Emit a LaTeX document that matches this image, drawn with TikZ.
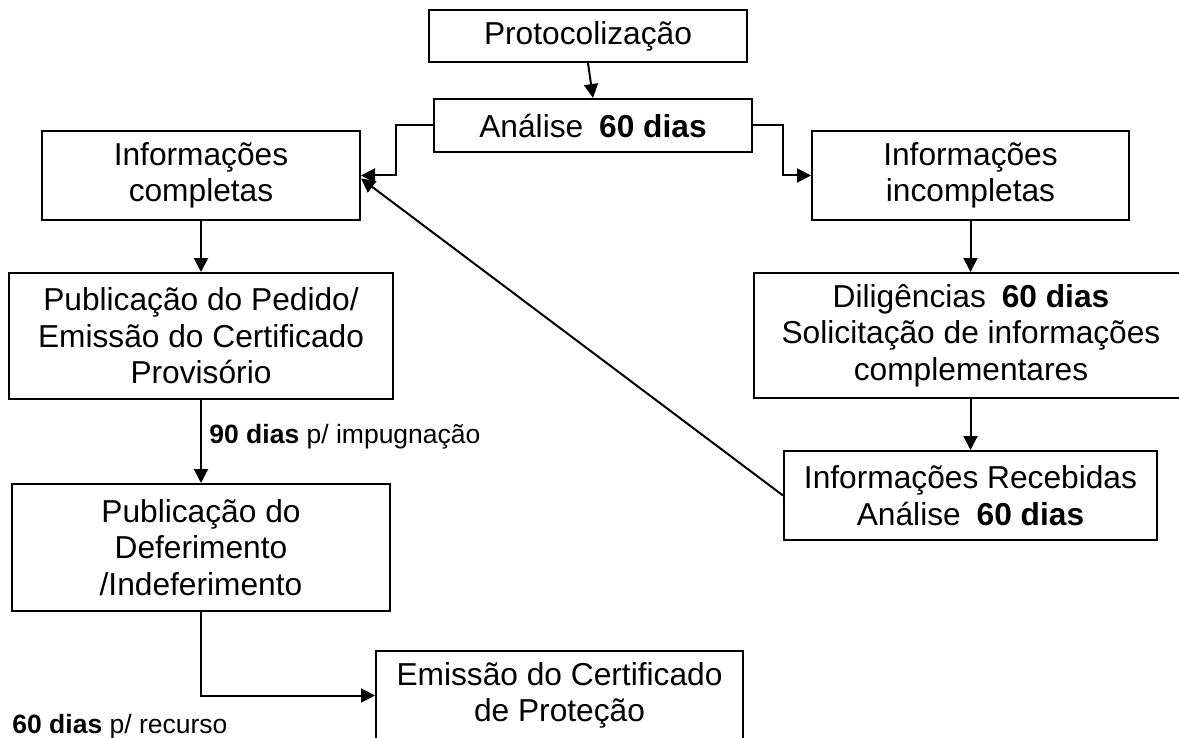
\documentclass[tikz,border=0pt]{standalone}
\usepackage{fontspec}
\setmainfont{Liberation Sans}
\usetikzlibrary{arrows.meta,calc}
\begin{document}
\begin{tikzpicture}[x=0.5pt,y=-0.5pt,
  box/.style={draw,line width=1pt,inner sep=0pt,align=center,
    font=\fontsize{15.85pt}{18.25pt}\selectfont},
  lbl/.style={inner sep=0pt,anchor=base west,font=\fontsize{13.25pt}{15pt}\selectfont},
  conn/.style={line width=1pt,-{Triangle[length=7pt,width=7pt]}},
  plain/.style={line width=1pt}]
\useasboundingbox (0,0) rectangle (1179,738);
\clip (0,0) rectangle (1179,738);
\node[box,minimum width=159pt,minimum height=26pt] (proto) at (588,36) {Protocolização};
\node[box,minimum width=159pt,minimum height=26.5pt] (analise) at (593,125.5) {Análise\enspace\textbf{60 dias}};
\node[box,minimum width=159pt,minimum height=44.5pt] (compl) at (201,175.5) {Informações\\completas};
\node[box,minimum width=158.5pt,minimum height=44.5pt] (incompl) at (970.5,175.5) {Informações\\incompletas};
\node[box,minimum width=192pt,minimum height=63pt] (pedido) at (201,336) {Publicação do Pedido/\\Emissão do Certificado\\Provisório};
\node[box,minimum width=217pt,minimum height=62.5pt] (dilig) at (971,335.5) {Diligências\enspace\textbf{60 dias}\\Solicitação de informações\\complementares};
\node[box,minimum width=186.5pt,minimum height=44.5pt] (receb) at (970.5,495.5) {Informações Recebidas\\Análise\enspace\textbf{60 dias}};
\node[box,minimum width=189pt,minimum height=63.5pt] (defer) at (201,547.5) {Publicação do\\Deferimento\\/Indeferimento};
\node[box,minimum width=183.5pt,minimum height=44.5pt] (emiss) at (559.5,695.5) {Emissão do Certificado\\de Proteção};
\node[lbl] (l90) at (209,443) {\textbf{90 dias} p/ impugnação};
\node[lbl] (l60) at (12,733) {\textbf{60 dias} p/ recurso};
\draw[conn] (proto.south) -- (analise.north);
\draw[conn] (analise.west) -- ++(-37,0) |- (compl.east);
\draw[conn] (analise.east) -- ++(30,0) |- (incompl.west);
\draw[conn] (compl.south) -- (pedido.north);
\draw[conn] (incompl.south) -- (incompl.south |- dilig.north);
\draw[conn] (pedido.south) -- (defer.north);
\draw[conn] (receb.north |- dilig.south) -- (receb.north);
\draw[conn] (receb.west) -- ([yshift=-1.5pt]compl.east);
\draw[conn] (defer.south) |- (emiss.west);
\end{tikzpicture}
\end{document}
